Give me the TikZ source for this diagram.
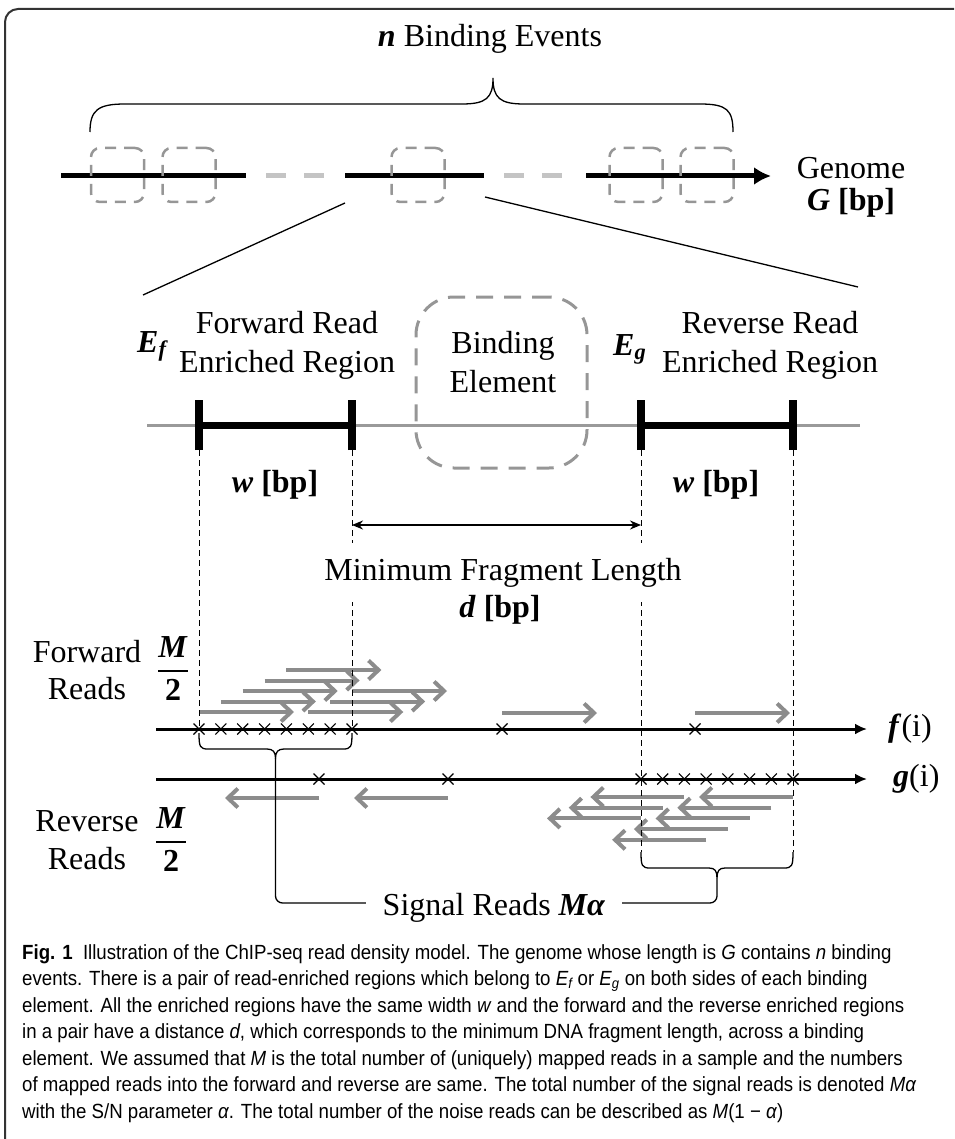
\RequirePackage{fix-cm}
\documentclass[tikz,border=0pt]{standalone}
\usepackage{amsmath}
\usepackage{fontspec}
\setmainfont{Liberation Serif}
\newfontfamily\capfont[FakeStretch=0.91]{Liberation Sans}
\usetikzlibrary{arrows.meta,positioning,calc}

\definecolor{readgray}{HTML}{8C8C8C}
\definecolor{sitegray}{HTML}{969696}
\definecolor{gapgray}{HTML}{C4C4C4}
\definecolor{axisgray}{HTML}{9A9A9A}
\definecolor{framegray}{HTML}{333333}

\newcommand{\bi}[1]{\textbf{\textit{#1}}}

\begin{document}
\begin{tikzpicture}[
		x=1pt, y=-1pt,
		>=Latex,
		every node/.style={font=\fontsize{32}{39}\selectfont, inner sep=2pt},
		genome/.style={line width=5pt},
		gapline/.style={line width=5pt, gapgray, dash pattern=on 20pt off 18pt},
		site/.style={draw=sitegray, line width=2.5pt, dash pattern=on 11pt off 8pt, rounded corners=9pt, minimum width=53pt, minimum height=54pt},
		bindbox/.style={draw=sitegray, line width=3pt, dash pattern=on 17pt off 11pt, rounded corners=38pt, minimum width=171pt, minimum height=171pt},
		guide/.style={line width=1pt, dash pattern=on 6pt off 4pt},
		strand/.style={line width=3pt, -{Latex[length=12pt,width=11pt]}},
		read/.style={line width=4pt, readgray, -{Straight Barb[length=10pt,width=19pt]}},
		brace/.style={line width=1.3pt},
		readmark/.pic={\draw[line width=1.1pt] (-5.5,-5.5) -- (5.5,5.5) (-5.5,5.5) -- (5.5,-5.5);},
		caption/.style={font=\capfont\fontsize{20.5}{26.5}\selectfont, align=left, anchor=north west, inner sep=0pt}
		]
		\useasboundingbox (0,0) rectangle (954,1139);
		
		% frame
		\draw[line width=2pt, framegray, rounded corners=13pt] (5,1139) -- (5,9) -- (954,9);
		
		% genome with n binding events
		\node[anchor=base] (events) at (490,47) {\bi{n} Binding Events};
		\draw[brace] (90,132) .. controls (90,110) and (98,104) .. (125,104) -- (462,104)
			.. controls (486,104) and (493,98) .. (493,78)
			.. controls (493,98) and (500,104) .. (524,104) -- (700,104)
			.. controls (727,104) and (733,110) .. (733,132);
		\draw[genome] (61,176) -- (246,176);
		\draw[gapline] (266,176) -- (324,176);
		\draw[genome] (345,176) -- (484,176);
		\draw[gapline] (504,176) -- (563,176);
		\draw[genome, -{Latex[length=17pt,width=18pt]}] (586,176) -- (771,176);
		\foreach \sx [count=\k] in {117.5,189,418,636,707}
			\node[site] (site\k) at (\sx,175) {};
		\node[align=center, font=\fontsize{32}{32}\selectfont] (genome) at (851,187) {Genome\\\bi{G} \textbf{[bp]}};
		
		% zoom into one event
		\coordinate (zl) at (345,203);
		\coordinate (zr) at (485,197);
		\draw[line width=1.3pt] (zl) -- (143,295);
		\draw[line width=1.3pt] (zr) -- (858,287);
		
		% enriched regions around the binding element
		\draw[line width=3pt, axisgray] (147,425) -- (860,425);
		\coordinate (fl) at (199,425);
		\coordinate (fr) at (352,425);
		\coordinate (rl) at (641,425);
		\coordinate (rr) at (793,425);
		\draw[line width=7pt] (fl) -- (fr);
		\draw[line width=7pt] (rl) -- (rr);
		\foreach \c in {fl,fr,rl,rr}
			\draw[line width=8pt] ([yshift=-25pt]\c) -- ([yshift=25pt]\c);
		\node[bindbox] (bind) at (501.5,382.5) {};
		\node[align=center] (bindlbl) at (503,362) {Binding\\Element};
		\node[anchor=base west] (ef) at (135,352) {\bi{E\textsubscript{f}}};
		\node[align=center] (fwdlbl) at (287,345) {Forward Read\\Enriched Region};
		\node[anchor=base west] (eg) at (611,355) {\bi{E\textsubscript{g}}};
		\node[align=center] (revlbl) at (770,345) {Reverse Read\\Enriched Region};
		\node[anchor=base] (wf) at (275,492) {\bi{w} \textbf{[bp]}};
		\node[anchor=base] (wr) at (716,492) {\bi{w} \textbf{[bp]}};
		\coordinate (dl) at (352,525);
		\coordinate (dr) at (641,525);
		\draw[{Stealth[length=11pt,width=9pt]}-{Stealth[length=11pt,width=9pt]}, line width=1.6pt] (dl) -- (dr);
		
		% strands
		\coordinate (fstart) at (156,729);
		\coordinate (fend) at (867,729);
		\coordinate (gstart) at (156,779);
		\coordinate (gend) at (867,779);
		\draw[strand] (fstart) -- (fend);
		\draw[strand] (gstart) -- (gend);
		\node[right=21pt of fend, inner sep=0pt] (flbl) {\bi{f}(i)};
		\node[right=26pt of gend, inner sep=0pt] (glbl) {\bi{g}(i)};
		
		% forward reads
		\foreach \i in {0,...,7} {
			\pgfmathsetmacro{\px}{199+153*\i/7}
			\pgfmathsetmacro{\py}{712-10.5*mod(\i,5)}
			\draw[read] (\px,\py) -- ++(95,0);
			\pic at (\px,729) {readmark};
		}
		\foreach \px in {502,695} {
			\draw[read] (\px,713) -- ++(95,0);
			\pic at (\px,729) {readmark};
		}
		% reverse reads
		\foreach \j in {0,...,7} {
			\pgfmathsetmacro{\px}{641+152*\j/7}
			\pgfmathsetmacro{\py}{797+10.7*mod(7-\j,5)}
			\draw[read] (\px,\py) -- ++(-94,0);
			\pic at (\px,779) {readmark};
		}
		\foreach \px in {319,448} {
			\draw[read] (\px,798) -- ++(-94,0);
			\pic at (\px,779) {readmark};
		}
		
		% guides and fragment length
		\draw[guide] (199,450) -- (199,729);
		\draw[guide] (352,450) -- (352,729);
		\draw[guide] (641,450) -- (641,852);
		\draw[guide] (793,450) -- (793,852);
		\node[fill=white, inner xsep=3pt, inner ysep=15pt, anchor=base] (minlen) at (503,580) {Minimum Fragment Length};
		\node[anchor=base] (dlen) at (500,617) {\bi{d} \textbf{[bp]}};
		
		% read labels
		\node[align=center, font=\fontsize{32}{37}\selectfont] (fwdreads) at (87,670) {Forward\\Reads};
		\node[anchor=base] (mfwd) at (173,679) {$\genfrac{}{}{2pt}{0}{\text{\bi{M}}}{\text{\textbf{2}}}$};
		\node[align=center, font=\fontsize{32}{38}\selectfont] (revreads) at (87,840) {Reverse\\Reads};
		\node[anchor=base] (mrev) at (171,850) {$\genfrac{}{}{2pt}{0}{\text{\bi{M}}}{\text{\textbf{2}}}$};
		
		% signal braces
		\coordinate (ltip) at (275.5,758);
		\coordinate (rtip) at (717,878);
		\draw[brace] (199,733) .. controls (199,747) and (200,749) .. (208,749) -- (267,749)
			.. controls (273,749) and (275.5,752) .. (ltip)
			.. controls (275.5,752) and (278,749) .. (284,749) -- (343,749)
			.. controls (351,749) and (352,747) .. (352,733);
		\draw[brace] (641,852) .. controls (641,866) and (642,868) .. (650,868) -- (709,868)
			.. controls (715,868) and (717,871) .. (rtip)
			.. controls (717,871) and (719,868) .. (725,868) -- (784,868)
			.. controls (792,868) and (793,866) .. (793,852);
		\coordinate (sigl) at (275.5,903);
		\coordinate (sigr) at (717,903);
		\draw[brace, rounded corners=7pt] (ltip) -- (sigl) -- (sigr) -- (rtip);
		\node[fill=white, inner xsep=17pt, inner ysep=4pt, anchor=base] (signal) at (494,915) {Signal Reads \bi{Mα}};
		
		% caption
		\node[caption] (cap) at (22,944) {\textbf{Fig. 1}\ \ Illustration of the ChIP-seq read density model. The genome whose length is \textit{G} contains \textit{n} binding\\
			events. There is a pair of read-enriched regions which belong to \textit{E\textsubscript{f}} or \textit{E\textsubscript{g}} on both sides of each binding\\
			element. All the enriched regions have the same width \textit{w} and the forward and the reverse enriched regions\\
			in a pair have a distance \textit{d}, which corresponds to the minimum DNA fragment length, across a binding\\
			element. We assumed that \textit{M} is the total number of (uniquely) mapped reads in a sample and the numbers\\
			of mapped reads into the forward and reverse are same. The total number of the signal reads is denoted \textit{Mα}\\
			with the S/N parameter \textit{α}. The total number of the noise reads can be described as \textit{M}(1 − \textit{α})};
		
	\end{tikzpicture}
\end{document}
